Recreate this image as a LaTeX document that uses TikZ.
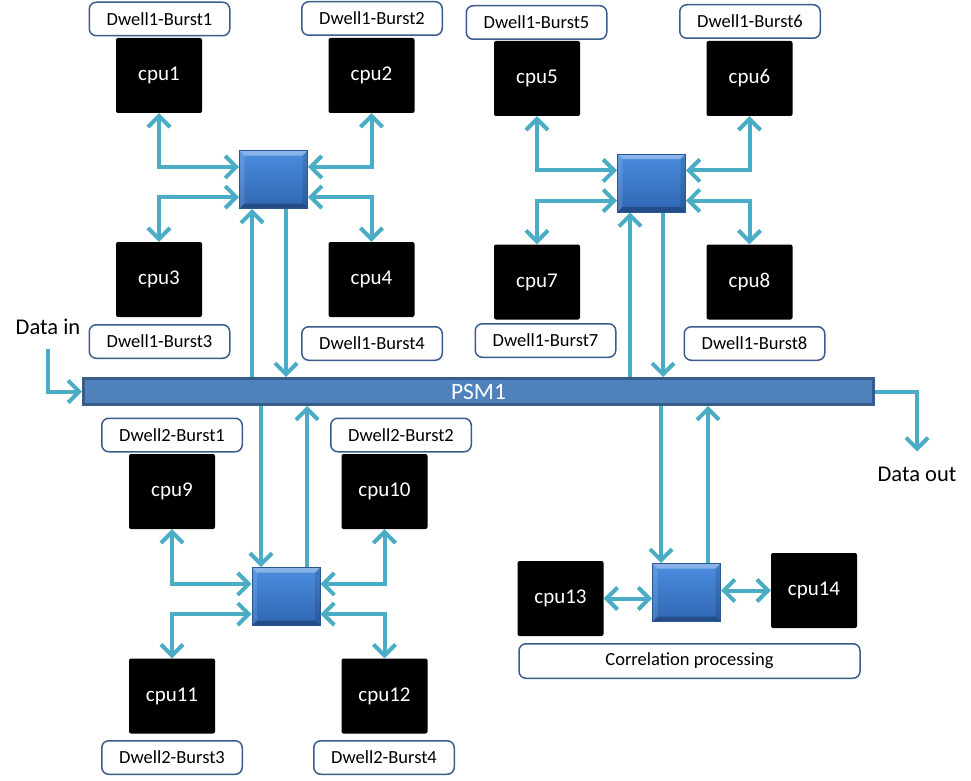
\documentclass[tikz,border=0pt]{standalone}
\usepackage{fontspec}
\setmainfont{Carlito}
\usetikzlibrary{arrows.meta}
\definecolor{linkcol}{HTML}{4BACC6}
\definecolor{tagline}{HTML}{3A5C8C}
\definecolor{busfill}{HTML}{4F81BD}
\definecolor{busline}{HTML}{385D8A}
\definecolor{swtop}{HTML}{4C8DDF}
\definecolor{swbot}{HTML}{2F66B1}
\definecolor{swline}{HTML}{2B5791}
\begin{document}
\begin{tikzpicture}[x=1pt,y=-1pt,
  cpu/.style={fill=black,rounded corners=2pt,minimum width=86pt,minimum height=75pt,
    inner sep=0pt,text=white,font=\fontsize{21}{24}\selectfont},
  tag/.style={draw=tagline,line width=1.5pt,fill=white,rounded corners=7pt,
    minimum width=140.5pt,minimum height=33.5pt,inner sep=0pt,font=\fontsize{18.5}{21}\selectfont},
  bus/.style={draw=busline,line width=3pt,fill=busfill,minimum width=790pt,minimum height=26pt,
    inner sep=0pt,text=white,font=\fontsize{23.5}{26}\selectfont},
  switch/.style={draw=swline,line width=1pt,top color=swtop,bottom color=swbot,
    minimum width=68pt,minimum height=58pt,inner sep=0pt,
    path picture={
      \fill[white,opacity=.35] (path picture bounding box.north west) -- (path picture bounding box.north east)
        -- ([shift={(-5pt,-5pt)}]path picture bounding box.north east) -- ([shift={(5pt,-5pt)}]path picture bounding box.north west) -- cycle;
      \fill[white,opacity=.12] (path picture bounding box.north west) -- (path picture bounding box.south west)
        -- ([shift={(5pt,5pt)}]path picture bounding box.south west) -- ([shift={(5pt,-5pt)}]path picture bounding box.north west) -- cycle;
      \fill[black,opacity=.12] (path picture bounding box.north east) -- (path picture bounding box.south east)
        -- ([shift={(-5pt,5pt)}]path picture bounding box.south east) -- ([shift={(-5pt,-5pt)}]path picture bounding box.north east) -- cycle;
      \fill[black,opacity=.25] (path picture bounding box.south west) -- (path picture bounding box.south east)
        -- ([shift={(-5pt,5pt)}]path picture bounding box.south east) -- ([shift={(5pt,5pt)}]path picture bounding box.south west) -- cycle;
    }},
  link/.style={draw=linkcol,line width=4pt,
    >={Straight Barb[length=11pt,width=22pt,line width=4pt]}},
  note/.style={inner sep=0pt,font=\fontsize{22.5}{26}\selectfont}]
\useasboundingbox (0,0) rectangle (971,781);

% the bus
\node[bus] (psm) at (478.5,391.5) {PSM1};
\node[note] (datain) at (48,327) {Data in};
\node[note] (dataout) at (917,474) {Data out};

% dwell 1, bursts 1-4
\node[tag] (tag1) at (159.5,19) {Dwell1-Burst1};
\node[tag] (tag2) at (372,18.5) {Dwell1-Burst2};
\node[cpu] (cpu1) at (159,75.5) {cpu1};
\node[cpu] (cpu2) at (371.5,75.5) {cpu2};
\node[switch] (sw1) at (273.5,179.5) {};
\node[cpu] (cpu3) at (159,279.5) {cpu3};
\node[cpu] (cpu4) at (371.5,279.5) {cpu4};
\node[tag] (tag3) at (159.5,341.5) {Dwell1-Burst3};
\node[tag] (tag4) at (372,343.5) {Dwell1-Burst4};

% dwell 1, bursts 5-8
\node[tag] (tag5) at (536.5,22.5) {Dwell1-Burst5};
\node[tag] (tag6) at (750,21.5) {Dwell1-Burst6};
\node[cpu] (cpu5) at (537,78.5) {cpu5};
\node[cpu] (cpu6) at (749.5,78.5) {cpu6};
\node[switch] (sw2) at (651.5,183) {};
\node[cpu] (cpu7) at (537,282) {cpu7};
\node[cpu] (cpu8) at (749.5,282) {cpu8};
\node[tag] (tag7) at (545.5,340.5) {Dwell1-Burst7};
\node[tag] (tag8) at (754.5,343.5) {Dwell1-Burst8};

% dwell 2
\node[tag] (tag9) at (172,435) {Dwell2-Burst1};
\node[tag] (tag10) at (401,435) {Dwell2-Burst2};
\node[cpu] (cpu9) at (172,491.5) {cpu9};
\node[cpu] (cpu10) at (384.5,491.5) {cpu10};
\node[switch] (sw3) at (286,596.5) {};
\node[cpu] (cpu11) at (172,696) {cpu11};
\node[cpu] (cpu12) at (384.5,696) {cpu12};
\node[tag] (tag11) at (172,757.5) {Dwell2-Burst3};
\node[tag] (tag12) at (384,757.5) {Dwell2-Burst4};

% correlation
\node[switch] (sw4) at (686.5,592.5) {};
\node[cpu] (cpu13) at (560.5,598.5) {cpu13};
\node[cpu] (cpu14) at (814,590.5) {cpu14};
\node[tag,minimum width=341pt,minimum height=34.5pt] (corr) at (689.5,661) {Correlation processing};

% cpu <-> switch
\foreach \s/\a/\b/\c/\d in {sw1/cpu1/cpu2/cpu3/cpu4,sw2/cpu5/cpu6/cpu7/cpu8,sw3/cpu9/cpu10/cpu11/cpu12}{
  \draw[link,<->] (\a.south) |- (\s.160);
  \draw[link,<->] (\b.south) |- (\s.20);
  \draw[link,<->] (\c.north) |- (\s.207);
  \draw[link,<->] (\d.north) |- (\s.333);
}
\draw[link,<->] (cpu13.east) -- (cpu13.east -| sw4.west);
\draw[link,<->] (cpu14.west) -- (cpu14.west -| sw4.east);

% switch <-> bus
\foreach \s/\i/\o in {sw1/-21.5/12.5,sw2/-21.5/11.5}{
  \coordinate (\s-in) at ([xshift=\i pt]\s.south);
  \coordinate (\s-out) at ([xshift=\o pt]\s.south);
  \draw[link,->] (\s-in |- psm.north) -- (\s-in);
  \draw[link,->] (\s-out) -- (\s-out |- psm.north);
}
\foreach \s/\i/\o in {sw3/-25/21,sw4/-25.5/21.5}{
  \coordinate (\s-in) at ([xshift=\i pt]\s.north);
  \coordinate (\s-out) at ([xshift=\o pt]\s.north);
  \draw[link,->] (\s-in |- psm.south) -- (\s-in);
  \draw[link,->] (\s-out) -- (\s-out |- psm.south);
}

% data in / out
\draw[link,->,shorten <=14pt] (datain.south) |- (psm.west);
\draw[link,->,shorten >=15pt] (psm.east) -| (dataout.north);
\end{tikzpicture}
\end{document}
